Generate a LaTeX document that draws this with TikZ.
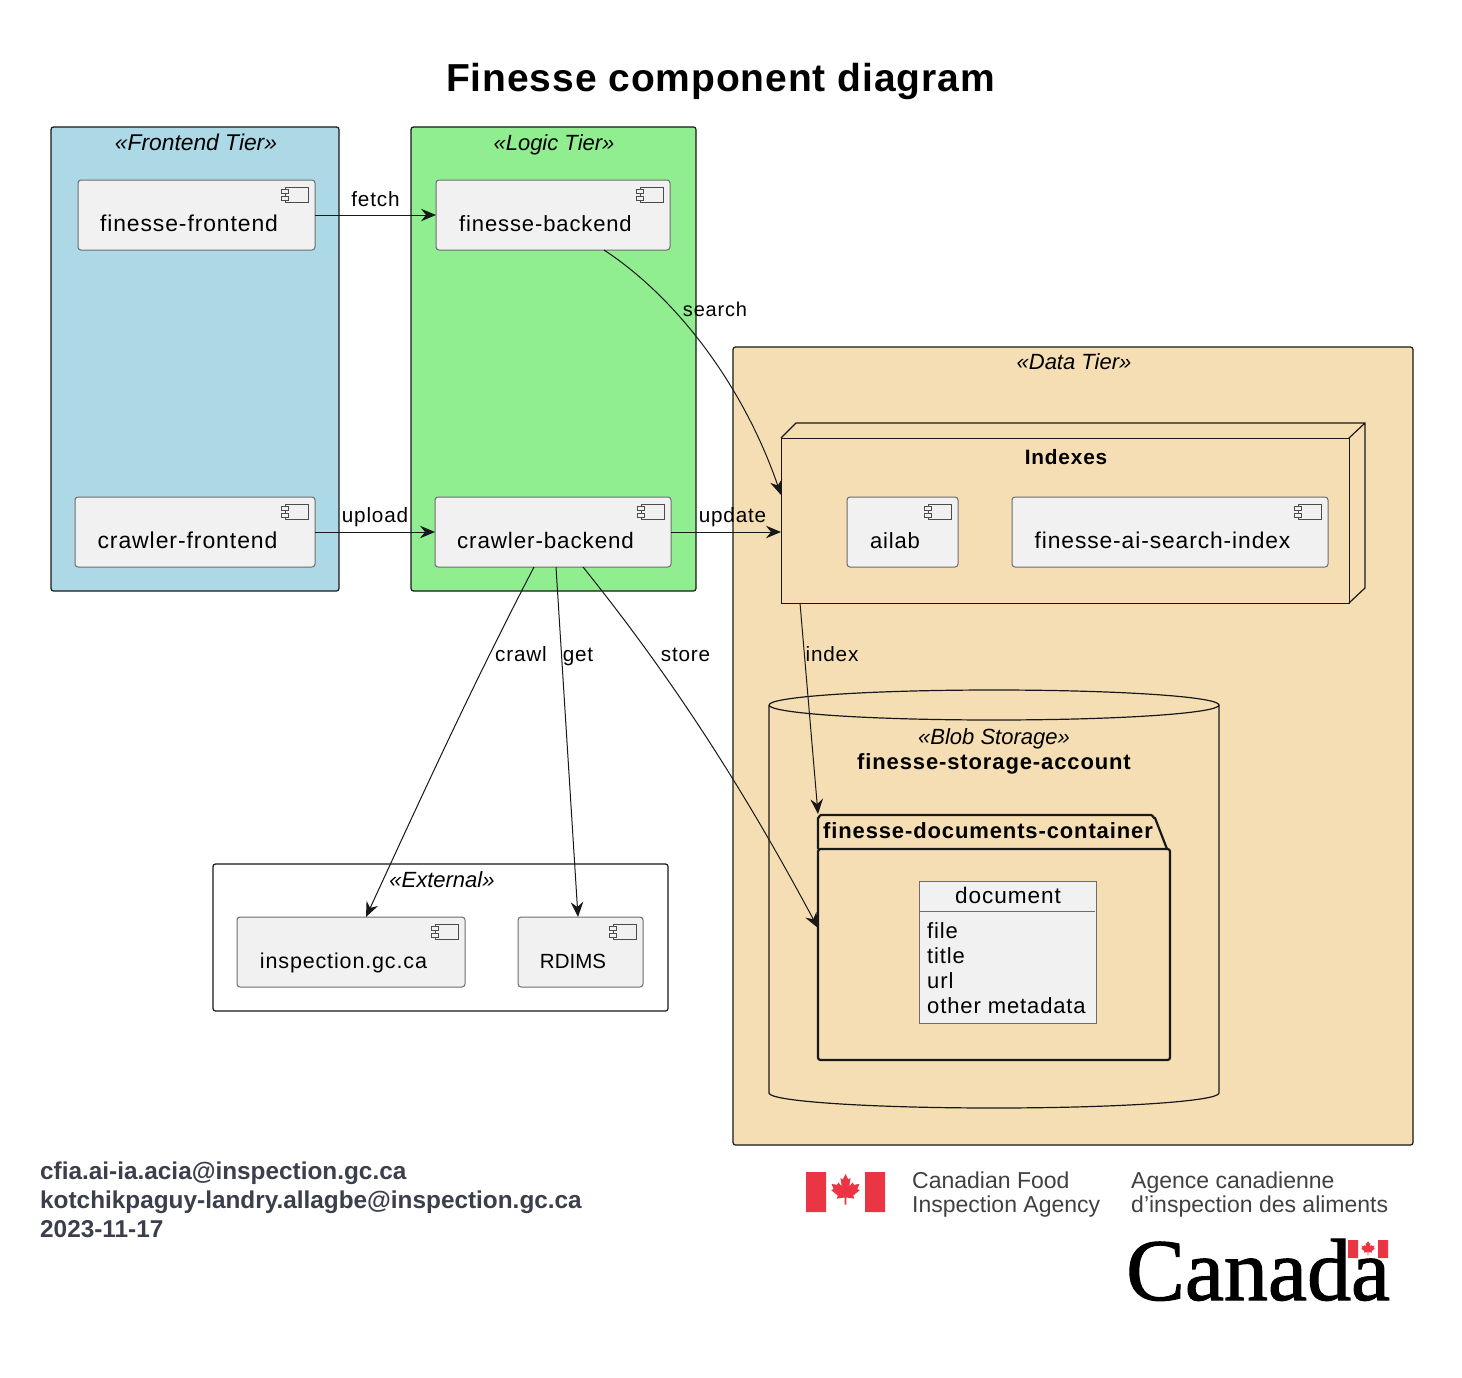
\documentclass[tikz,border=0pt]{standalone}
\usepackage{fontspec}
\setmainfont{Liberation Sans}
\newfontfamily\lblfont[LetterSpace=4]{Liberation Sans}
\newfontfamily\titlefont[LetterSpace=2.3]{Liberation Sans}
\newfontfamily\logofont[FakeBold=1.2]{Liberation Serif}
\usetikzlibrary{arrows.meta,positioning}
\definecolor{frontblue}{HTML}{ADD8E6}
\definecolor{logicgreen}{HTML}{90EE90}
\definecolor{datawheat}{HTML}{F5DEB3}
\definecolor{compgray}{HTML}{F1F1F1}
\definecolor{linedark}{HTML}{181818}
\definecolor{footgray}{HTML}{3A3F4B}
\definecolor{flagred}{HTML}{EA3545}
\tikzset{
  x=1pt,y=-1pt,
  >={Stealth[length=15pt,width=12.5pt,inset=5pt]},
  tier/.style={draw=linedark,line width=1.2pt,rounded corners=2.5pt,anchor=north west,inner sep=0,outer sep=0},
  compbox/.style={draw=gray!85!black,fill=compgray,line width=1pt,rounded corners=3pt,anchor=north west,inner sep=0,outer sep=0},
  lbl/.style={anchor=base,inner sep=0,font=\fontsize{22}{24}\lblfont,text=black},
  edgelbl/.style={lbl,font=\fontsize{20.7}{24}\lblfont},
  leftlbl/.style={lbl,anchor=base west},
  tierlbl/.style={lbl,font=\fontsize{22}{24}\selectfont\itshape},
  boldlbl/.style={lbl,font=\fontsize{22}{24}\lblfont\bfseries},
  flow/.style={->,draw=linedark,line width=1pt},
  footlbl/.style={anchor=base west,inner sep=0,font=\fontsize{24.35}{26}\selectfont\bfseries,text=footgray},
  logolbl/.style={anchor=base west,inner sep=0,font=\fontsize{23}{26}\selectfont,text=black!75},
}
\newcommand{\comp}[6]{
\node[compbox,minimum width=#4,minimum height=#5] (#1) at (#2,#3) {};
\node[lbl] (#1-text) at ([shift={(-7.5,16.5)}]#1.center) {#6};
\draw[gray!60!black,fill=compgray,line width=.8pt] ([shift={(-30,7)}]#1.north east) rectangle ([shift={(-7,22)}]#1.north east);
\draw[gray!60!black,fill=compgray,line width=.8pt] ([shift={(-34,9)}]#1.north east) rectangle ([shift={(-27,13)}]#1.north east);
\draw[gray!60!black,fill=compgray,line width=.8pt] ([shift={(-34,16)}]#1.north east) rectangle ([shift={(-27,20)}]#1.north east);
}
\newcommand{\mapleleaf}[3]{
\fill[flagred,shift={(#1,#2)},xscale=#3,yscale=-#3] (0,1)--(.16,.68)--(.3,.76)--(.22,.28)--(.42,.5)--(.5,.36)--(.82,.42)--(.7,.12)--(.84,.05)--(.45,-.27)--(.52,-.45)--(.05,-.38)--(.05,-.8)--(-.05,-.8)--(-.05,-.38)--(-.52,-.45)--(-.45,-.27)--(-.84,.05)--(-.7,.12)--(-.82,.42)--(-.5,.36)--(-.42,.5)--(-.22,.28)--(-.3,.76)--(-.16,.68)--cycle;
}
\begin{document}
\begin{tikzpicture}
\useasboundingbox (0,0) rectangle (1462,1378);
\fill[white] (0,0) rectangle (1462,1378);
\node[anchor=base,inner sep=0,font=\fontsize{39}{42}\titlefont\bfseries] (title) at (720.5,92) {Finesse component diagram};

\node[tier,fill=frontblue,minimum width=288,minimum height=464] (frontend) at (51,127) {};
\node[tier,fill=logicgreen,minimum width=285,minimum height=464] (logic) at (411,127) {};
\node[tier,fill=datawheat,minimum width=680,minimum height=798] (data) at (733,347) {};
\node[tier,fill=white,minimum width=455,minimum height=147] (external) at (213,864) {};
\node[tierlbl,font=\fontsize{22.8}{24}\selectfont\itshape] (frontendlbl) at (196,150) {«Frontend Tier»};
\node[tierlbl] (logiclbl) at (554,150) {«Logic Tier»};
\node[tierlbl] (datalbl) at (1074,369) {«Data Tier»};
\node[tierlbl] (externallbl) at (442,887) {«External»};

\draw[linedark,line width=1.2pt] (781,438)--(796,423)--(1365,423)--(1365,588)--(1349,603) (1349,438)--(1365,423);
\node[draw=linedark,line width=.9pt,anchor=north west,inner sep=0,outer sep=0,minimum width=568,minimum height=165] (indexes) at (781,438) {};
\node[boldlbl,font=\fontsize{20.8}{24}\lblfont\bfseries] (indexeslbl) at (1066,464) {Indexes};

\draw[linedark,line width=1.2pt] (769,705) arc[x radius=225,y radius=15,start angle=180,end angle=540] (769,705)--(769,1093) arc[x radius=225,y radius=15,start angle=180,end angle=0]--(1219,705);
\node[tierlbl] (bloblbl) at (994,744) {«Blob Storage»};
\node[boldlbl] (storagelbl) at (994,769) {finesse-storage-account};

\draw[linedark,line width=2.2pt,line join=round] (818,849)--(818,818) to[out=-90,in=180] (821,815)--(1151,815) to[out=0,in=-110] (1155,818)--(1167,849);
\node[draw=linedark,line width=2.2pt,rounded corners=2.5pt,anchor=north west,inner sep=0,outer sep=0,minimum width=352,minimum height=211] (container) at (818,849) {};
\node[boldlbl] (containerlbl) at (988,838.5) {finesse-documents-container};

\node[compbox,rounded corners=0pt,minimum width=177,minimum height=142] (document) at (919,881) {};
\draw[gray!85!black,line width=1pt] (document.north west)++(1,30) coordinate (docline) -- ++(175,0);
\node[lbl,font=\fontsize{22.6}{24}\lblfont] (documentlbl) at (1008,903.5) {document};
\node[leftlbl] (docfile) at (927,938) {file};
\node[leftlbl] (doctitle) at (927,963) {title};
\node[leftlbl] (docurl) at (927,988) {url};
\node[leftlbl] (docother) at (927,1013) {other metadata};

\comp{ffront}{78}{180}{237}{70}{\fontsize{22.9}{24}\selectfont finesse-frontend}
\comp{fback}{436}{180}{234}{70}{finesse-backend}
\comp{cfront}{75}{497}{240}{70}{\fontsize{23}{24}\selectfont crawler-frontend}
\comp{cback}{435}{497}{236}{70}{\fontsize{22.4}{24}\selectfont crawler-backend}
\comp{ailab}{847}{497}{111}{70}{ailab}
\comp{aisearch}{1012}{497}{316}{70}{\fontsize{22.8}{24}\selectfont finesse-ai-search-index}
\comp{inspection}{237}{917}{228}{70}{\fontsize{21.5}{24}\selectfont inspection.gc.ca}
\comp{rdims}{518}{917}{125}{70}{\fontsize{20.5}{24}\selectfont\rmfamily RDIMS}

\draw[flow] (ffront.east)--(fback.west);
\draw[flow] (cfront.east)--(cback.west);
\draw[flow] (cback.east)--(indexes.west|-cback.east);
\draw[flow] ([xshift=51]fback.south) .. controls (680,300) and (745,390) .. ([yshift=37]indexes.west|-cback.east);
\draw[flow] ([xshift=-19]cback.south) .. controls (470,690) and (420,800) .. ([xshift=15]inspection.north);
\draw[flow] ([xshift=3]cback.south)--([xshift=-2.5]rdims.north);
\draw[flow] ([xshift=30]cback.south) .. controls (690,700) and (760,820) .. (container.west|-0,928);
\draw[flow] ([xshift=19]indexes.south west)--(818,814);

\node[edgelbl] (fetchlbl) at (375.5,206) {fetch};
\node[edgelbl] (uploadlbl) at (375,522) {upload};
\node[edgelbl] (updatelbl) at (732.5,522) {update};
\node[edgelbl,font=\fontsize{20}{24}\lblfont] (searchlbl) at (715,316) {search};
\node[edgelbl] (crawllbl) at (521,661) {crawl};
\node[edgelbl] (getlbl) at (578,661) {get};
\node[edgelbl] (storelbl) at (685.5,661) {store};
\node[edgelbl] (indexlbl) at (832,661) {index};

\node[footlbl] (mail1) at (40,1179) {cfia.ai-ia.acia@inspection.gc.ca};
\node[footlbl] (mail2) at (40,1208) {kotchikpaguy-landry.allagbe@inspection.gc.ca};
\node[footlbl] (datelbl) at (40,1237) {2023-11-17};

\fill[flagred] (806,1172) rectangle (826,1212) (865,1172) rectangle (885,1212);
\mapleleaf{845.5}{1191}{17}
\node[logolbl] (foodlbl) at (912,1188) {Canadian Food};
\node[logolbl] (agencylbl) at (912,1212) {Inspection Agency};
\node[logolbl] (agencefr) at (1131,1188) {Agence canadienne};
\node[logolbl] (inspectfr) at (1131,1212) {d’inspection des aliments};
\node[anchor=base west,inner sep=0,font=\fontsize{88}{90}\logofont,text=black] (canadalbl) at (1126,1300) {Canada};
\fill[flagred] (1348,1240) rectangle (1358,1258) (1378,1240) rectangle (1388,1258);
\mapleleaf{1368}{1249}{8}
\end{tikzpicture}
\end{document}
